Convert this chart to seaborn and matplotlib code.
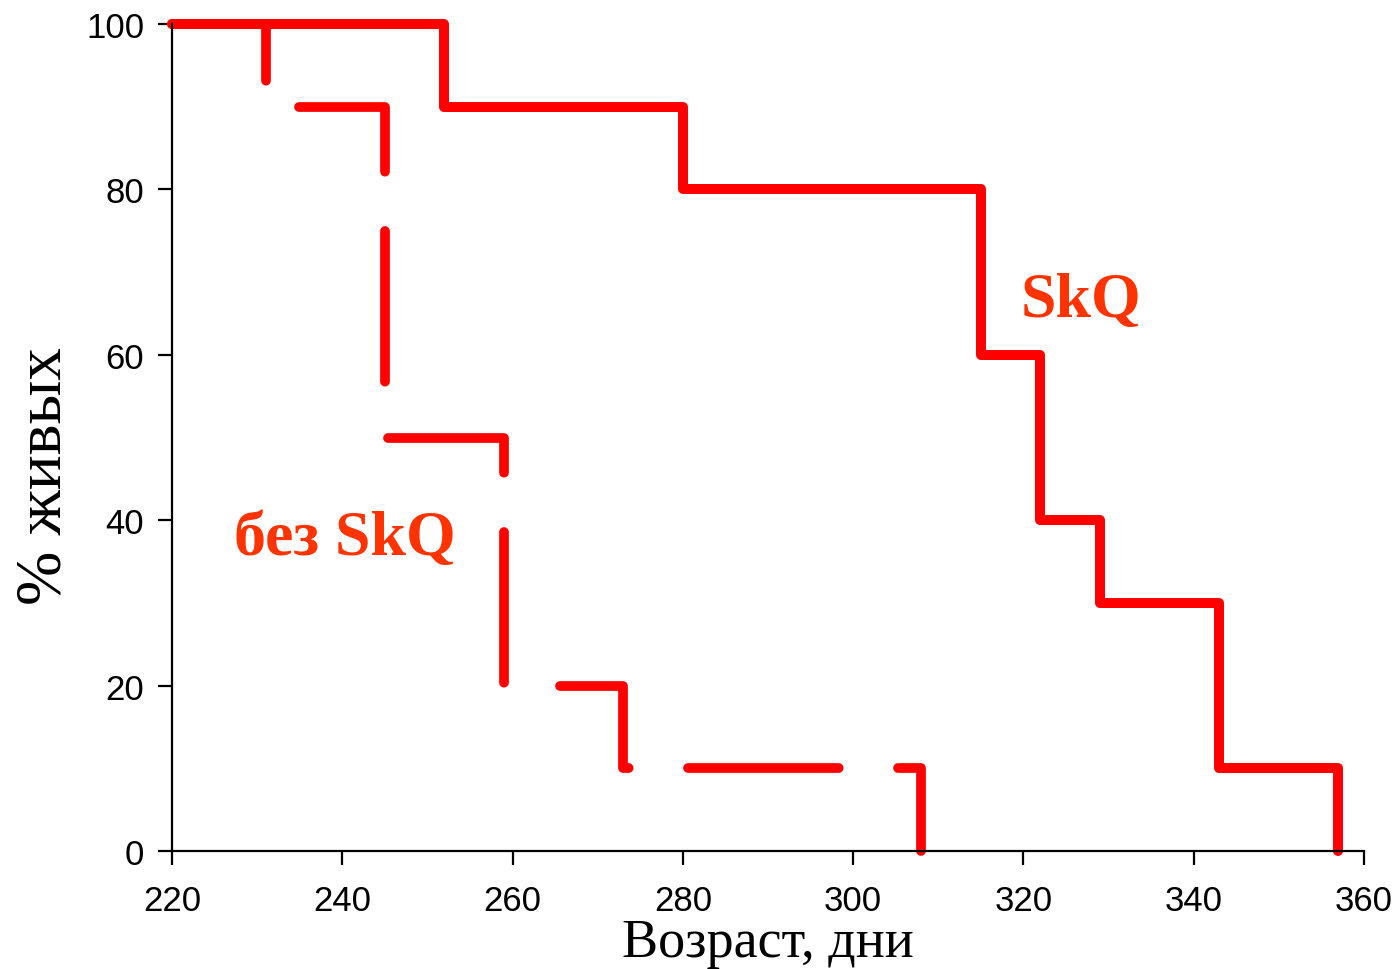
import pandas as pd
import matplotlib.pyplot as plt
import seaborn as sns

# данные выживаемости (ступенчатые кривые)
age_skq = [220, 252, 280, 315, 322, 329, 343, 357]
alive_skq = [100, 90, 80, 60, 40, 30, 10, 0]
age_ctrl = [220, 231, 245, 259, 273, 308]
alive_ctrl = [100, 90, 50, 20, 10, 0]

x_ticks = [220, 240, 260, 280, 300, 320, 340, 360]
y_ticks = [0, 20, 40, 60, 80, 100]

df_skq = pd.DataFrame({'age': age_skq, 'alive': alive_skq})
df_ctrl = pd.DataFrame({'age': age_ctrl, 'alive': alive_ctrl})

sns.set_style('ticks')
plt.rcParams['font.family'] = ['Liberation Sans', 'DejaVu Sans']
plt.rcParams['text.color'] = 'black'
plt.rcParams['axes.labelcolor'] = 'black'
plt.rcParams['xtick.color'] = 'black'
plt.rcParams['ytick.color'] = 'black'
plt.rcParams['axes.edgecolor'] = 'black'

fig = plt.figure(figsize=(13.97, 9.70), dpi=100)
ax = fig.add_axes([0.1231, 0.1216, 0.8533, 0.8526])

red = '#ff0000'
sns.lineplot(data=df_skq, x='age', y='alive', ax=ax, color=red, lw=7.2,
             drawstyle='steps-post', estimator=None, sort=False,
             solid_capstyle='round', solid_joinstyle='round')
sns.lineplot(data=df_ctrl, x='age', y='alive', ax=ax, color=red, lw=7,
             drawstyle='steps-post', estimator=None, sort=False,
             linestyle=(0, (15.5, 6.1)),
             dash_capstyle='round', dash_joinstyle='round')

ax.set_xlim(220, 360)
ax.set_ylim(0, 100)
ax.set_xticks(x_ticks)
ax.set_yticks(y_ticks)
ax.tick_params(labelsize=25, length=10, width=1.6, direction='out')
ax.tick_params(axis='x', pad=14)
ax.tick_params(axis='y', pad=10)
for side in ['left', 'bottom']:
    ax.spines[side].set_linewidth(1.6)
sns.despine(ax=ax)

ax.set_xlabel('Возраст, дни', family=['Liberation Serif'], fontsize=39, labelpad=0)
ax.set_ylabel('% живых', family=['Liberation Serif'], fontsize=47)
ax.yaxis.set_label_coords(-0.082, 0.455)

ax.text(326.8, 64.7, 'SkQ', color='#ff3300', fontsize=46, fontweight='bold',
        family=['Liberation Serif'], ha='center', va='baseline')
ax.text(240.3, 35.9, 'без SkQ', color='#ff3300', fontsize=46, fontweight='bold',
        family=['Liberation Serif'], ha='center', va='baseline')

for line in ax.get_lines():
    line.set_clip_on(False)

fig.savefig('out.png', dpi=100)
